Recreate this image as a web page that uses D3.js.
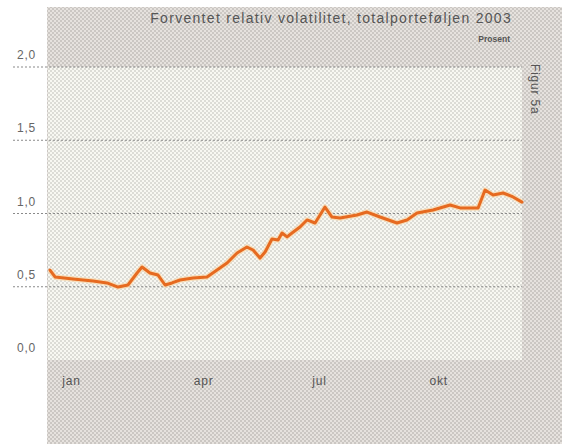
<!DOCTYPE html>
<html><head><meta charset="utf-8">
<script src="https://cdn.jsdelivr.net/npm/d3@7"></script>
<style>html,body{margin:0;padding:0;background:#fff}svg{display:block}</style>
</head><body>
<svg id="c" width="562" height="444"></svg>
<script>
const title = "Forventet relativ volatilitet, totalporteføljen 2003";
const unitLabel = "Prosent";
const figLabel = "Figur 5a";
const days = [1.5,5.4,19.2,34.6,45.3,53.8,61.4,68.4,72.2,78.3,84.5,89.9,95.2,101.4,111.4,122.1,129.8,137.5,145.2,152.8,157.5,162.8,166.7,172.0,176.7,179.7,183.6,187.4,193.5,198.9,205.1,212.7,218.1,224.3,237.3,245.0,255.0,268.0,275.7,283.4,295.7,308.8,316.4,330.3,335.6,341.8,349.5,357.1,364.0];
const values = [0.614,0.567,0.553,0.539,0.526,0.498,0.512,0.594,0.635,0.594,0.580,0.512,0.526,0.546,0.560,0.567,0.614,0.662,0.730,0.771,0.751,0.696,0.737,0.826,0.819,0.867,0.840,0.867,0.908,0.956,0.935,1.044,0.976,0.969,0.990,1.010,0.976,0.935,0.956,1.003,1.024,1.058,1.038,1.038,1.160,1.126,1.140,1.113,1.078];
const yTicks = [0, 0.5, 1.0, 1.5, 2.0];
const xTickDays = [11, 112, 203, 293];
const xTickLabels = ["jan", "apr", "jul", "okt"];

const svg = d3.select("#c");
const defs = svg.append("defs");
function checker(id, a, b, s) {
  const p = defs.append("pattern").attr("id", id).attr("patternUnits", "userSpaceOnUse")
    .attr("width", 2*s).attr("height", 2*s);
  p.append("rect").attr("width", 2*s).attr("height", 2*s).attr("fill", a);
  p.append("rect").attr("width", s).attr("height", s).attr("fill", b);
  p.append("rect").attr("x", s).attr("y", s).attr("width", s).attr("height", s).attr("fill", b);
}
checker("outer", "#e6e2de", "#cbc7c3", 2);
checker("inner", "#f8f8f2", "#dcdcd6", 2);

const m = {left: 48, right: 522, top: 67, bottom: 360};
const x = d3.scaleLinear().domain([0, 364]).range([m.left, m.right]);
const y = d3.scaleLinear().domain([0, 2]).range([m.bottom, m.top]);

svg.append("rect").attr("x", 47).attr("y", 7).attr("width", 515).attr("height", 437).attr("fill", "url(#outer)");
svg.append("rect").attr("x", m.left).attr("y", m.top).attr("width", m.right - m.left).attr("height", m.bottom - m.top).attr("fill", "url(#inner)");

const font = "Liberation Sans, Arial, sans-serif";

// gridlines + y labels
const yg = svg.append("g");
yTicks.forEach(t => {
  if (t > 0) {
    yg.append("line").attr("x1", 13).attr("x2", m.right).attr("y1", y(t)).attr("y2", y(t))
      .attr("stroke", "#8a8a8a").attr("stroke-width", 1.2).attr("stroke-dasharray", "2,2");
  }
  yg.append("text").attr("x", 17).attr("y", y(t) - 8).text(d3.format(".1f")(t).replace(".", ","))
    .attr("font-family", font).attr("font-size", 12).attr("fill", "#666").attr("letter-spacing", 0.8);
});

// x labels
const xg = svg.append("g");
xTickDays.forEach((d, i) => {
  xg.append("text").attr("x", x(d)).attr("y", 385).text(xTickLabels[i])
    .attr("font-family", font).attr("font-size", 12).attr("fill", "#555").attr("letter-spacing", 0.8);
});

// line
const data = days.map((d, i) => [d, values[i]]);
const line = d3.line().x(d => x(d[0])).y(d => y(d[1])).curve(d3.curveLinear);
svg.append("path").datum(data).attr("d", line).attr("fill", "none")
  .attr("stroke", "#fbd7a8").attr("stroke-width", 5.5).attr("stroke-linejoin", "round").attr("opacity", 0.7);
svg.append("path").datum(data).attr("d", line).attr("fill", "none")
  .attr("stroke", "#e66a20").attr("stroke-width", 3).attr("stroke-linejoin", "round").attr("stroke-linecap", "round");

// titles
svg.append("text").attr("x", 512).attr("y", 23).attr("text-anchor", "end").text(title)
  .attr("font-family", font).attr("font-size", 14).attr("fill", "#555").attr("letter-spacing", 1.3);
svg.append("text").attr("x", 510).attr("y", 42).attr("text-anchor", "end").text(unitLabel)
  .attr("font-family", font).attr("font-size", 8.5).attr("font-weight", "bold").attr("fill", "#555");
svg.append("text").attr("transform", "translate(531,64) rotate(90)").text(figLabel)
  .attr("font-family", font).attr("font-size", 12).attr("fill", "#555").attr("letter-spacing", 0.8);
</script>
</body></html>
